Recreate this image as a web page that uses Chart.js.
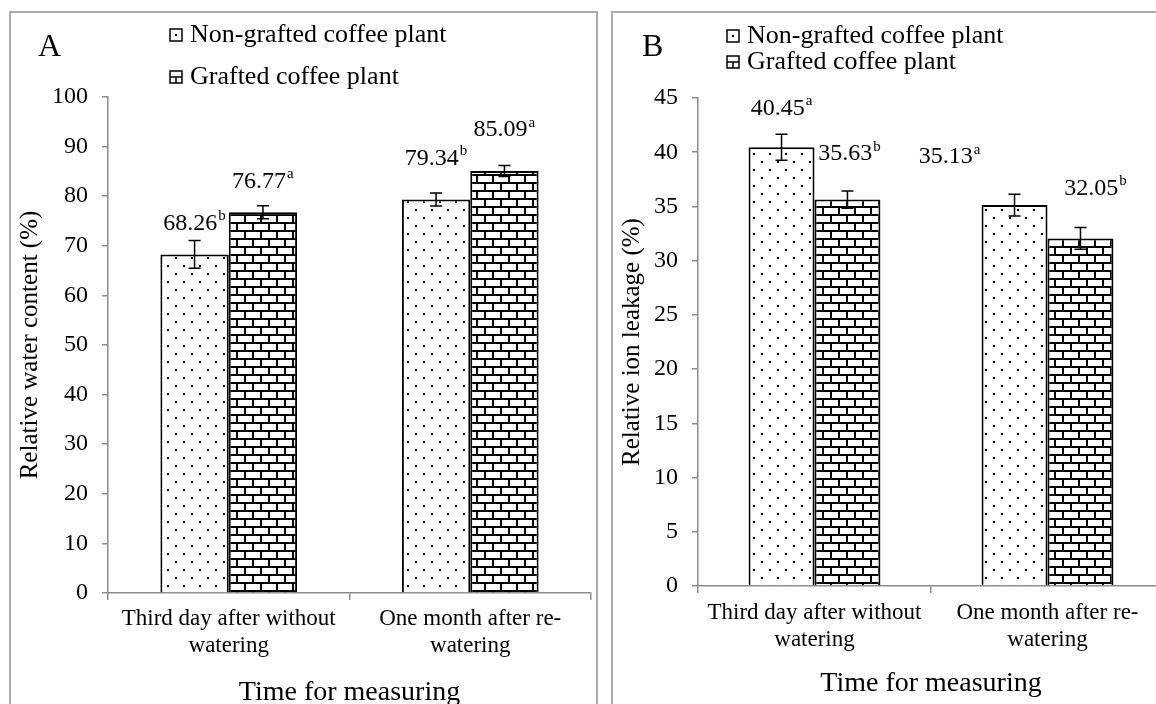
<!DOCTYPE html>
<html>
<head>
<meta charset="utf-8">
<script src="https://cdn.jsdelivr.net/npm/chart.js@4.4.1/dist/chart.umd.min.js"></script>
<style>
  html, body { margin: 0; padding: 0; background: #fff; width: 1156px; height: 704px; overflow: hidden; }
  .panel { position: absolute; border: 2px solid #ababab; box-sizing: border-box; }
  #panelA { left: 9px; top: 11px; width: 589px; height: 720px; }
  #panelB { left: 611px; top: 11px; width: 600px; height: 720px; }
  canvas { position: absolute; }
  #chartA { left: 12px; top: 14px; }
  #chartB { left: 614px; top: 14px; }
</style>
</head>
<body>
<div class="panel" id="panelA"></div>
<div class="panel" id="panelB"></div>
<canvas id="chartA" width="582" height="710"></canvas>
<canvas id="chartB" width="560" height="710"></canvas>
<script>
// data
const categories = [['Third day after without', 'watering'], ['One month after re-', 'watering']];
const seriesNames = ['Non-grafted coffee plant', 'Grafted coffee plant'];

const waterNonGrafted = [68.26, 79.34];
const waterGrafted = [76.77, 85.09];
const waterNonGraftedErr = [2.8, 1.3];
const waterGraftedErr = [1.3, 1.1];
const waterNonGraftedLetters = ['b', 'b'];
const waterGraftedLetters = ['a', 'a'];

const ionNonGrafted = [40.45, 35.13];
const ionGrafted = [35.63, 32.05];
const ionNonGraftedErr = [1.2, 1.0];
const ionGraftedErr = [0.8, 1.0];
const ionNonGraftedLetters = ['a', 'a'];
const ionGraftedLetters = ['b', 'b'];

const FONT = '"Liberation Serif", "Times New Roman", serif';
Chart.defaults.font.family = FONT;
Chart.defaults.color = '#000';

function dotPattern() {
    const c = document.createElement('canvas');
    c.width = 16; c.height = 16;
    const g = c.getContext('2d');
    g.fillStyle = '#fff';
    g.fillRect(0, 0, 16, 16);
    g.fillStyle = '#000';
    g.fillRect(3, 3, 2, 2);
    g.fillRect(11, 11, 2, 2);
    return g.createPattern(c, 'repeat');
}

function brickPattern() {
    const c = document.createElement('canvas');
    c.width = 16; c.height = 16;
    const g = c.getContext('2d');
    g.fillStyle = '#fff';
    g.fillRect(0, 0, 16, 16);
    g.fillStyle = '#000';
    g.fillRect(0, 0, 16, 2);
    g.fillRect(0, 8, 16, 2);
    g.fillRect(0, 0, 2, 8);
    g.fillRect(8, 8, 2, 8);
    return g.createPattern(c, 'repeat');
}

// error bars, value labels, legend and panel letter
const annotate = {
    id: 'annotate',
    afterDatasetsDraw(chart, args, opts) {
        const ctx = chart.ctx;
        const y = chart.scales.y;
        ctx.save();
        chart.data.datasets.forEach((ds, i) => {
            chart.getDatasetMeta(i).data.forEach((bar, j) => {
                const v = ds.data[j], e = ds.errors[j];
                const top = y.getPixelForValue(v + e);
                const bot = y.getPixelForValue(v - e);
                ctx.strokeStyle = '#000';
                ctx.lineWidth = 1.5;
                ctx.beginPath();
                ctx.moveTo(bar.x, top); ctx.lineTo(bar.x, bot);
                ctx.moveTo(bar.x - 6, top); ctx.lineTo(bar.x + 6, top);
                ctx.moveTo(bar.x - 6, bot); ctx.lineTo(bar.x + 6, bot);
                ctx.stroke();

                // labels were nudged by hand in the original
                const n = opts.nudge[i][j];
                const main = v.toFixed(2), sup = ds.letters[j];
                ctx.font = '24px ' + FONT;
                const w1 = ctx.measureText(main).width;
                ctx.font = '15px ' + FONT;
                const w2 = ctx.measureText(sup).width;
                const x0 = bar.x + n[0] - (w1 + w2 + 1) / 2;
                const ly = bar.y - opts.labelOffset + n[1];
                ctx.fillStyle = '#000';
                ctx.textAlign = 'left';
                ctx.textBaseline = 'middle';
                ctx.font = '24px ' + FONT;
                ctx.fillText(main, x0, ly);
                ctx.font = '15px ' + FONT;
                ctx.fillText(sup, x0 + w1 + 1, ly - 7);
            });
        });

        // legend
        const L = opts.legend;
        chart.data.datasets.forEach((ds, i) => {
            const cy = L.rows[i];
            const bx = L.x, by = cy - 6;
            ctx.fillStyle = '#fff';
            ctx.fillRect(bx, by, 12, 12);
            ctx.strokeStyle = '#000';
            ctx.lineWidth = 1.5;
            ctx.strokeRect(bx, by, 12, 12);
            ctx.fillStyle = '#000';
            if (i === 0) {
                ctx.fillRect(bx + 5, by + 5, 2, 2);
            } else {
                ctx.beginPath();
                ctx.moveTo(bx, by + 6); ctx.lineTo(bx + 12, by + 6);
                ctx.moveTo(bx + 6, by + 6); ctx.lineTo(bx + 6, by + 12);
                ctx.stroke();
            }
            ctx.font = '26px ' + FONT;
            ctx.textAlign = 'left';
            ctx.textBaseline = 'middle';
            ctx.fillText(ds.label, L.textX, cy);
        });

        ctx.font = '32px ' + FONT;
        ctx.fillText(opts.letter, opts.letterX, opts.letterY);
        ctx.restore();
    }
};

function makeChart(id, cfg) {
    return new Chart(document.getElementById(id), {
        type: 'bar',
        data: {
            labels: categories,
            datasets: [{
                label: seriesNames[0],
                data: cfg.nonGrafted,
                errors: cfg.nonGraftedErr,
                letters: cfg.nonGraftedLetters,
                backgroundColor: dotPattern(),
                borderColor: '#000',
                borderWidth: 2,
                barPercentage: 1,
                categoryPercentage: 0.566
            }, {
                label: seriesNames[1],
                data: cfg.grafted,
                errors: cfg.graftedErr,
                letters: cfg.graftedLetters,
                backgroundColor: brickPattern(),
                borderColor: '#000',
                borderWidth: 2,
                barPercentage: 1,
                categoryPercentage: 0.566
            }]
        },
        options: {
            responsive: false,
            animation: false,
            layout: { padding: { left: 0, right: cfg.padRight, top: cfg.padTop, bottom: 0 } },
            plugins: {
                legend: { display: false },
                tooltip: { enabled: false },
                annotate: cfg.annotate
            },
            scales: {
                x: {
                    grid: { drawOnChartArea: false, drawTicks: true, tickLength: 7, color: '#8c8c8c', lineWidth: 1.5 },
                    border: { color: '#8c8c8c', width: 1.5 },
                    ticks: { font: { size: 23 }, padding: cfg.xTickPad, maxRotation: 0, autoSkip: false },
                    title: { display: true, text: 'Time for measuring', font: { size: 28 }, padding: { top: 0, bottom: cfg.xTitlePad } },
                    afterFit: s => { s.height = cfg.xHeight; }
                },
                y: {
                    min: 0,
                    max: cfg.yMax,
                    ticks: { stepSize: cfg.yStep, font: { size: 24 }, padding: 14 },
                    grid: { drawOnChartArea: false, tickLength: 6, color: '#8c8c8c', lineWidth: 1.5 },
                    border: { color: '#8c8c8c', width: 1.5 },
                    title: { display: true, text: cfg.yTitle, font: { size: 25 }, padding: { top: 3, bottom: 0 } },
                    afterFit: s => { s.width = cfg.yWidth; }
                }
            }
        },
        plugins: [annotate]
    });
}

makeChart('chartA', {
    nonGrafted: waterNonGrafted, grafted: waterGrafted,
    nonGraftedErr: waterNonGraftedErr, graftedErr: waterGraftedErr,
    nonGraftedLetters: waterNonGraftedLetters, graftedLetters: waterGraftedLetters,
    yMax: 100, yStep: 10, yTitle: 'Relative water content (%)',
    yWidth: 96, padRight: 3, padTop: 83, xHeight: 131, xTickPad: 5, xTitlePad: 15,
    annotate: { labelOffset: 41, letter: 'A', letterX: 26, letterY: 34,
        nudge: [[[0, 10], [0, 0]], [[0, 10], [0, 0]]],
        legend: { x: 158, textX: 178, rows: [21, 63] } }
});

makeChart('chartB', {
    nonGrafted: ionNonGrafted, grafted: ionGrafted,
    nonGraftedErr: ionNonGraftedErr, graftedErr: ionGraftedErr,
    nonGraftedLetters: ionNonGraftedLetters, graftedLetters: ionGraftedLetters,
    yMax: 45, yStep: 5, yTitle: 'Relative ion leakage (%)',
    yWidth: 84, padRight: 10, padTop: 84, xHeight: 138, xTickPad: 6, xTitlePad: 24,
    annotate: { labelOffset: 41, letter: 'B', letterX: 28, letterY: 34,
        nudge: [[[0, 2], [-65, -7]], [[2, -5], [15, -9]]],
        legend: { x: 113, textX: 133, rows: [22, 48] } }
});
</script>
</body>
</html>
